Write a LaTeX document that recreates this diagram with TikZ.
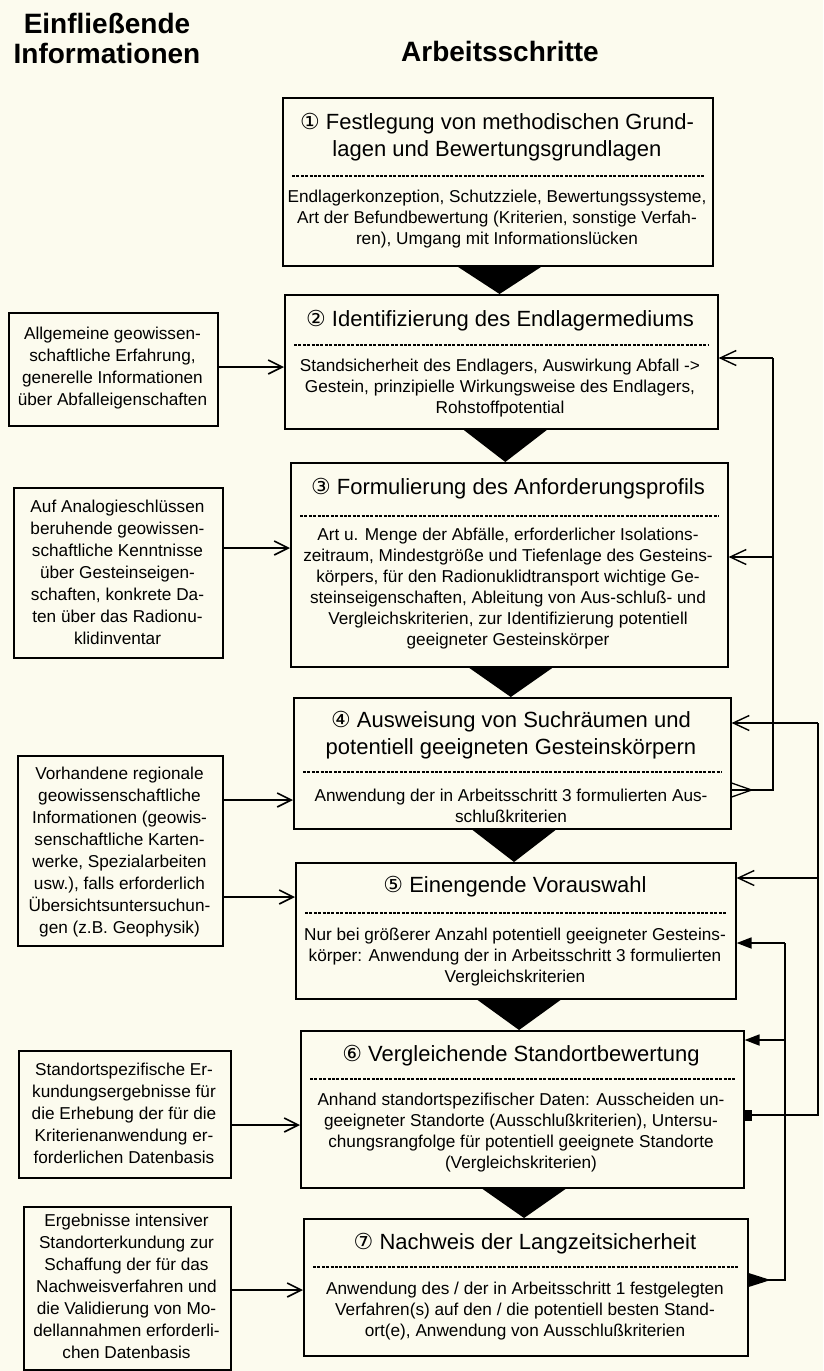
\documentclass[tikz,border=0pt]{standalone}
\usepackage{fontspec}
\setmainfont{Liberation Sans}
\newfontfamily\numfont{DejaVu Sans}
\usetikzlibrary{arrows.meta,calc}
\definecolor{paper}{RGB}{252,251,238}

\tikzset{
  box/.style={draw=black, line width=1.6pt, fill=paper, anchor=north west, inner sep=0pt},
  head/.style={align=center, inner sep=0pt, font=\bfseries\fontsize{28}{30}\selectfont},
  ttl/.style={align=center, inner sep=0pt, font=\fontsize{22}{27}\selectfont},
  txt/.style={align=center, inner sep=0pt, font=\fontsize{17.2}{21}\selectfont},
  info/.style={align=center, inner sep=0pt, font=\fontsize{17.2}{22}\selectfont},
  sep/.style={line width=1.1pt, dash pattern=on 3pt off 1.4pt},
  wire/.style={line width=1.8pt},
  inarrow/.style={line width=1.8pt, -{Straight Barb[length=14pt,width=14pt,line width=1.6pt]}},
  openback/.style={line width=1.8pt, -{Straight Barb[length=16pt,width=15pt,line width=1.4pt]}},
  solidback/.style={line width=1.8pt, -{Triangle[length=15pt,width=11pt]}},
}

\newcommand\circnum[1]{{\numfont #1}}

\begin{document}
\begin{tikzpicture}[x=1pt,y=1pt]
\useasboundingbox (0,0) rectangle (823,-1371);
\fill[paper] (0,0) rectangle (823,-1371);

% column headings
\node[head] (hin) at (107,-38) {Einfließende\\Informationen};
\node[head] (hwork) at (500,-51) {Arbeitsschritte};

% ---------- work steps ----------
% step 1
\node[box, minimum width=430pt, minimum height=168pt] (b1) at (282,-97) {};
\node[ttl] (t1) at (497,-137) {\circnum{①} Festlegung von methodischen Grund-\\lagen und Bewertungsgrundlagen};
\draw[sep] (292,-176) -- (704,-176);
\node[txt] (d1) at (497,-219) {Endlagerkonzeption, Schutzziele, Bewertungssysteme,\\Art der Befundbewertung (Kriterien, sonstige Verfah-\\ren), Umgang mit Informationslücken};

% step 2
\node[box, minimum width=433pt, minimum height=134pt] (b2) at (284,-294) {};
\node[ttl] (t2) at (500,-321) {\circnum{②} Identifizierung des Endlagermediums};
\draw[sep] (294,-345) -- (709,-345);
\node[txt] (d2) at (500,-388) {Standsicherheit des Endlagers, Auswirkung Abfall ->\\Gestein, prinzipielle Wirkungsweise des Endlagers,\\Rohstoffpotential};

% step 3
\node[box, minimum width=437pt, minimum height=204pt] (b3) at (290,-462) {};
\node[ttl] (t3) at (508,-489) {\circnum{③} Formulierung des Anforderungsprofils};
\draw[sep] (300,-516) -- (719,-516);
\node[txt] (d3) at (508,-589) {Art u. Menge der Abfälle, erforderlicher Isolations-\\zeitraum, Mindestgröße und Tiefenlage des Gesteins-\\körpers, für den Radionuklidtransport wichtige Ge-\\steinseigenschaften, Ableitung von Aus-schluß- und\\Vergleichskriterien, zur Identifizierung potentiell\\geeigneter Gesteinskörper};

% step 4
\node[box, minimum width=437pt, minimum height=131pt] (b4) at (293,-697) {};
\node[ttl] (t4) at (511,-735) {\circnum{④} Ausweisung von Suchräumen und\\potentiell geeigneten Gesteinskörpern};
\draw[sep] (303,-772) -- (722,-772);
\node[txt] (d4) at (511,-806) {Anwendung der in Arbeitsschritt 3 formulierten Aus-\\schlußkriterien};

% step 5
\node[box, minimum width=440pt, minimum height=136pt] (b5) at (295,-862) {};
\node[ttl] (t5) at (515,-887) {\circnum{⑤} Einengende Vorauswahl};
\draw[sep] (305,-913) -- (727,-913);
\node[txt] (d5) at (515,-957) {Nur bei größerer Anzahl potentiell geeigneter Gesteins-\\körper: Anwendung der in Arbeitsschritt 3 formulierten\\Vergleichskriterien};

% step 6
\node[box, minimum width=443pt, minimum height=157pt] (b6) at (300,-1030) {};
\node[ttl] (t6) at (521,-1056) {\circnum{⑥} Vergleichende Standortbewertung};
\draw[sep] (310,-1079) -- (735,-1079);
\node[txt] (d6) at (521,-1133) {Anhand standortspezifischer Daten: Ausscheiden un-\\geeigneter Standorte (Ausschlußkriterien), Untersu-\\chungsrangfolge für potentiell geeignete Standorte\\(Vergleichskriterien)};

% step 7
\node[box, minimum width=444pt, minimum height=137pt] (b7) at (303,-1218) {};
\node[ttl] (t7) at (525,-1244) {\circnum{⑦} Nachweis der Langzeitsicherheit};
\draw[sep] (313,-1267) -- (739,-1267);
\node[txt] (d7) at (525,-1311) {Anwendung des / der in Arbeitsschritt 1 festgelegten\\Verfahren(s) auf den / die potentiell besten Stand-\\ort(e), Anwendung von Ausschlußkriterien};

% black flow triangles between the steps
\foreach \u/\l in {b1/b2, b2/b3, b3/b4, b4/b5, b5/b6, b6/b7}{
  \fill let \p1=(\u.south), \p2=(\l.north) in
    ({0.5*\x1+0.5*\x2-42pt},\y1) -- ({0.5*\x1+0.5*\x2+42pt},\y1) -- ({0.5*\x1+0.5*\x2},\y2) -- cycle;
}

% ---------- incoming information ----------
\node[box, minimum width=209pt, minimum height=113pt] (i2) at (8,-312) {};
\node[info] (s2) at (112.5,-368.5) {Allgemeine geowissen-\\schaftliche Erfahrung,\\generelle Informationen\\über Abfalleigenschaften};

\node[box, minimum width=209pt, minimum height=170pt] (i3) at (13,-487) {};
\node[info] (s3) at (117.5,-572) {Auf Analogieschlüssen\\beruhende geowissen-\\schaftliche Kenntnisse\\über Gesteinseigen-\\schaften, konkrete Da-\\ten über das Radionu-\\klidinventar};

\node[box, minimum width=205pt, minimum height=190pt] (i4) at (17,-755) {};
\node[info] (s4) at (119.5,-852) {Vorhandene regionale\\geowissenschaftliche\\Informationen (geowis-\\senschaftliche Karten-\\werke, Spezialarbeiten\\usw.), falls erforderlich\\Übersichtsuntersuchun-\\gen (z.B. Geophysik)};

\node[box, minimum width=212pt, minimum height=127pt] (i6) at (18,-1050) {};
\node[info] (s6) at (124,-1113.5) {Standortspezifische Er-\\kundungsergebnisse für\\die Erhebung der für die\\Kriterienanwendung er-\\forderlichen Datenbasis};

\node[box, minimum width=207pt, minimum height=163pt] (i7) at (23,-1206) {};
\node[info] (s7) at (126.5,-1286) {Ergebnisse intensiver\\Standorterkundung zur\\Schaffung der für das\\Nachweisverfahren und\\die Validierung von Mo-\\dellannahmen erforderli-\\chen Datenbasis};

% arrows from the information boxes into the steps
\coordinate (y2) at (0,-367);
\coordinate (y3) at (0,-548);
\coordinate (y4) at (0,-800);
\coordinate (y5) at (0,-897);
\coordinate (y6) at (0,-1125);
\coordinate (y7) at (0,-1290);
\draw[inarrow] (i2.east |- y2) -- (b2.west |- y2);
\draw[inarrow] (i3.east |- y3) -- (b3.west |- y3);
\draw[inarrow] (i4.east |- y4) -- (b4.west |- y4);
\draw[inarrow] (i4.east |- y5) -- (b5.west |- y5);
\draw[inarrow] (i6.east |- y6) -- (b6.west |- y6);
\draw[inarrow] (i7.east |- y7) -- (b7.west |- y7);

% ---------- feedback loops on the right ----------
% from step 4 back to steps 3 and 2
\coordinate (ka0) at (773,-790);
\coordinate (ka3) at (773,-557);
\coordinate (ka2) at (773,-358);
\draw[wire] (b4.east |- ka0) -- (ka0) -- (ka2);
\draw[openback] (ka2) -- (b2.east |- ka2);
\draw[openback] (ka3) -- (b3.east |- ka3);
\draw[line width=1.3pt, line join=miter] ($(b4.east |- ka0)+(0,7)$) -- ($(b4.east |- ka0)+(20,0)$) -- ($(b4.east |- ka0)+(0,-7)$);

% from step 6 back to steps 5 and 4
\coordinate (kb0) at (818,-1115);
\coordinate (kb5) at (818,-878);
\coordinate (kb4) at (818,-723);
\draw[wire] (b6.east |- kb0) -- (kb0) -- (kb4);
\draw[openback] (kb4) -- (b4.east |- kb4);
\draw[openback] (kb5) -- (b5.east |- kb5);
\fill ($(b6.east |- kb0)+(-1,-5.5)$) rectangle ($(b6.east |- kb0)+(7,5.5)$);

% from step 7 back to steps 6 and 5
\coordinate (kc0) at (785,-1280);
\coordinate (kc6) at (785,-1040);
\coordinate (kc5) at (785,-943);
\draw[wire] (b7.east |- kc0) -- (kc0) -- (kc5);
\draw[solidback] (kc5) -- (b5.east |- kc5);
\draw[solidback] (kc6) -- (b6.east |- kc6);
\fill ($(b7.east |- kc0)+(0,7)$) -- ($(b7.east |- kc0)+(22,0)$) -- ($(b7.east |- kc0)+(0,-7)$) -- cycle;
\end{tikzpicture}
\end{document}
